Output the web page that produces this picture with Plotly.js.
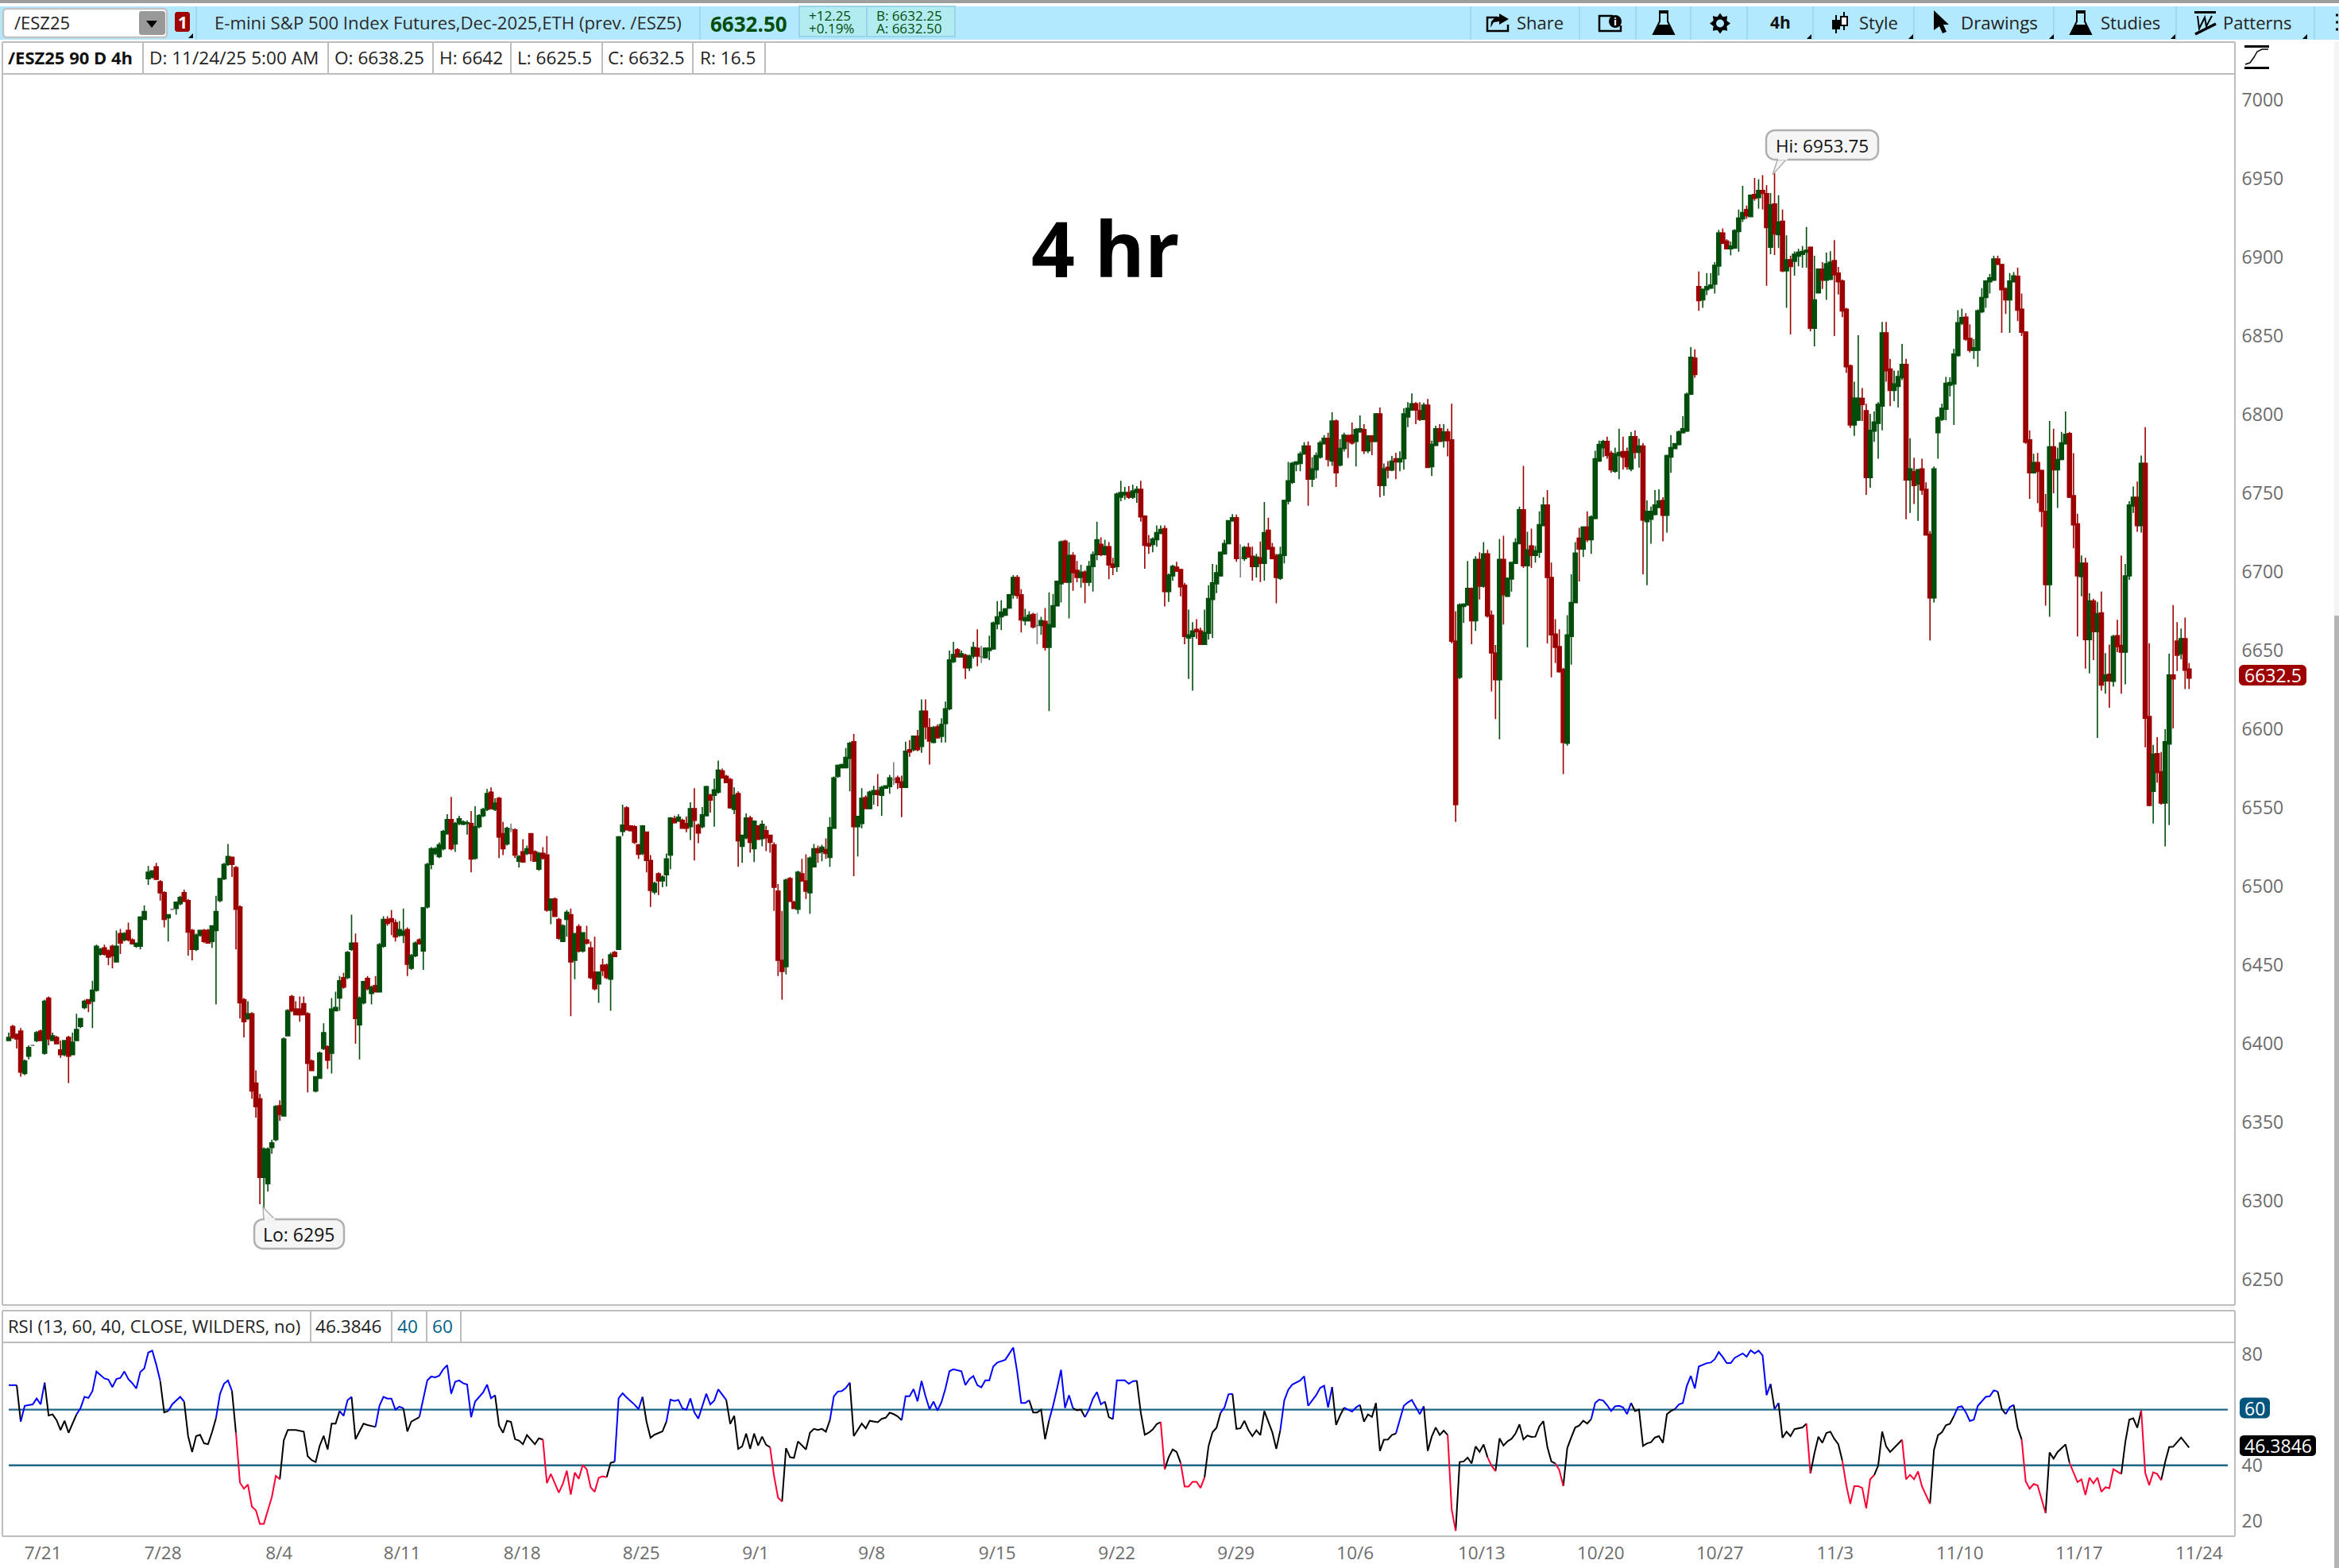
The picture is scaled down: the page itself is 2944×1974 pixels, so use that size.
<!DOCTYPE html>
<html><head><meta charset="utf-8"><title>/ESZ25 4h</title>
<script src="https://cdn.plot.ly/plotly-3.0.1.min.js"></script>
<style>html,body{margin:0;padding:0;background:#fff}#chart{width:2944px;height:1974px}</style></head>
<body><div id="chart"></div>
<script>
// Each row: open, high, low, close (bars are 4h)
const barsA=[[6402,6407,6402,6404],[6411,6412,6403,6404],[6406,6406,6397,6403],[6408,6410,6379,6382],[6381,6390,6380,6389],[6392,6399,6390,6397.5],[6399,6399.5,6398.5,6399],[6402,6408,6401,6407],[6408,6409,6402,6402],
[6394,6428,6393,6427],[6429,6430,6399,6403],[6402,6407,6402,6405],[6404,6405,6400,6400],[6396,6402,6391,6393],[6393,6402,6392,6402],[6404,6405,6375,6392],[6393,6407,6393,6401],[6402,6419,6402,6409],[6411,6416,6410,6416],[6423,6428,6422,6427],[6428,6428,6420,6425.5],[6427,6440,6410,6434],[6434,6463,6433,6462],[6457,6461,6456,6460],[6461,6463,6456,6457],[6459,6460,6450,6455],[6462,6463,6448,6456],[6452,6472,6452,6462],[6470,6473,6457,6464],[6466,6471,6465,6470],[6472,6477,6465,6466],[6466,6467,6463,6463.5],[6462,6464,6461,6464],[6462,6481,6460,6480.5],[6479,6488,6479,6484],[6505,6513,6501,6509],[6506,6510,6505,6510],[6512.5,6515,6504,6504.5],[6503,6504,6491,6496]];
const barsB=[[6496,6497,6474,6479],[6480,6482,6465,6482],[6485.5,6486,6485,6485.5],[6486,6490,6482,6490],[6489,6494,6488,6493],[6496,6498,6490,6490.5],[6491,6492,6456,6471],[6472,6473,6453,6460],[6460,6470,6459,6469],[6469,6472,6468,6472],[6472,6473,6464,6465],[6472,6473,6464,6464],[6465,6475,6461,6475],[6472,6494,6425,6484],[6491,6505,6490,6505],[6505,6515,6504,6514],[6514,6527,6513,6519],[6518.5,6519,6506,6514],[6512,6513,6460,6485.5],[6487,6488,6416,6426],[6428,6429,6404,6414],[6416,6427,6415,6419],[6419,6420,6365,6370],[6375,6383,6353,6360],[6365,6368,6298,6315],[6315,6334,6295,6333],[6311,6334,6306,6333],[6334,6339,6330,6337],[6339,6361,6338,6360]];
const barsC=[[6360.5,6364,6351,6355],[6354,6404,6354,6403],[6405,6422,6405,6421],[6430,6431,6420,6421],[6422,6427,6418,6418.5],[6422,6430,6414,6418.5],[6425.5,6430,6418,6418.5],[6419,6420,6369,6387.5],[6389,6390,6383,6383],[6370,6379,6369,6379],[6378,6395,6378,6394],[6397,6413,6396,6407],[6398,6399,6384,6389.5],[6394,6429,6381,6422],[6421,6433,6421,6423],[6429,6443,6421,6440],[6442,6445,6435,6436],[6442,6459,6441,6458],[6460,6482,6459,6464],[6464,6470,6400,6416],[6412,6430,6390,6429],[6426,6440,6425,6439.5],[6441.5,6443,6434,6435],[6432,6437,6425,6436],[6437,6443,6433,6433],[6433,6464,6433,6463],[6462,6481,6461,6479],[6479,6481,6475,6476.5],[6479.5,6485,6469,6477.5],[6477,6479,6465,6468],[6469,6478,6468,6472.5]];
const barsD=[[6469,6486,6464,6471.5],[6472.5,6474,6443,6450.5],[6448,6457,6447,6456],[6456,6465,6455,6464],[6466,6467,6463,6463.5],[6459,6487,6447,6486.5],[6487,6515,6486,6514],[6514,6525,6511,6524],[6521,6525,6520,6524],[6519,6528,6518,6526.5],[6524,6536,6523,6535],[6533.5,6546,6533,6542.5],[6542.5,6557,6523,6524],[6527,6541,6522,6540],[6540,6545,6539,6543],[6539.6,6542,6539,6541],[6540,6542,6533,6540.5],[6540,6548,6509,6517.5],[6518,6551,6517,6538],[6538,6546,6537,6545],[6545,6550,6544,6549],[6549,6562,6548,6559],[6560,6563,6549,6549.5],[6549,6556,6548,6553],[6556,6557,6518,6531.5],[6533.5,6541,6520,6524],[6527,6538,6526,6537],[6536.5,6540,6534.5,6536.5],[6536,6537,6518,6520],[6516,6520,6512,6519]];
const barsE=[[6522,6530,6515,6515.5],[6521,6526,6520,6524],[6533.5,6534,6516,6521],[6522,6523,6516,6516],[6511,6522,6510,6521],[6521,6525,6517,6518],[6520,6532,6484,6485],[6485,6492,6476,6492],[6492,6493,6481,6481],[6479,6480,6466,6467],[6465,6476,6465,6475],[6479,6485,6468,6483.5],[6482,6486,6417.5,6452],[6453,6470,6441,6470],[6474.5,6476,6458,6459],[6459,6471,6458,6470.5],[6466,6475,6463,6464],[6461,6465,6441,6442],[6445.5,6468,6434,6435],[6438,6446,6426,6445.5],[6450,6454,6443,6446.5],[6450,6451,6441,6442],[6441,6458,6421,6456.5],[6458,6459,6455,6455.5],[6460,6532,6460,6531.5],[6535,6552,6532,6539],[6550,6551,6536,6536],[6538.5,6539,6535,6535.5],[6538,6539,6527,6528],[6526.5,6527,6517.5,6520.5]];
const barsF=[[6521,6539,6520,6538.5],[6534.5,6535,6509,6516.5],[6516.5,6520,6487,6497.5],[6496.5,6503,6495,6502],[6508,6509,6494.5,6503.5],[6503.5,6507,6499.5,6506],[6507.5,6521,6500,6517.5],[6520,6544,6511,6543.5],[6543,6545,6540,6540.5],[6541.5,6546,6541,6544],[6542,6543,6537,6537],[6540,6544.5,6534.5,6537],[6538,6553.5,6529.5,6549.5],[6549.5,6562.5,6516.5,6542],[6539,6540,6527.5,6534],[6538,6550.5,6537,6545.5],[6545,6564,6545,6563.5],[6558,6559,6547,6555],[6558,6568.5,6538,6561.5],[6560,6580,6559,6574],[6573.5,6575,6569,6569],[6570,6571,6566,6566],[6568,6569,6549.5,6550],[6549,6563,6546,6558],[6559,6560.5,6512.5,6529],[6525.5,6533,6515,6532.5],[6531,6546.5,6530,6543.5],[6543.5,6545,6521.5,6528],[6524,6542,6515.5,6541.5]];
const barsG=[[6538.5,6539,6530,6530],[6530.5,6542,6525.5,6539.5],[6535.5,6538.5,6522.5,6531],[6532.5,6533,6521.5,6528],[6526.5,6528,6484.5,6499.5],[6497,6501.5,6443,6453],[6453,6484.5,6428,6446],[6449,6505,6444,6504],[6505,6506,6490,6490.5],[6490,6491,6486,6486],[6485.5,6510,6482.5,6509],[6508,6517.5,6503,6503.5],[6503.5,6520.5,6492,6497],[6496,6519,6482.5,6518],[6512.5,6527,6512,6524],[6524,6526,6515,6521.5],[6522,6526.5,6516,6525],[6523.5,6530.5,6517.5,6521],[6518.5,6544,6512.5,6537.5],[6537,6570,6537,6569],[6570,6577.5,6569,6577],[6575.5,6578,6575,6577.5],[6575.5,6588,6575,6582],[6581.5,6592,6560.5,6591],[6592,6597,6506.5,6538],[6538,6545,6519,6544.5],[6540,6562.5,6537,6556],[6556.5,6558,6549.5,6549.5],[6549.5,6561,6549,6560],[6558.5,6564,6552,6561]];
const barsH=[[6561,6571.5,6551,6558.5],[6558,6564,6545,6563],[6562.5,6564,6562,6564],[6563.5,6571,6559,6569],[6568,6579,6564.5,6568],[6569,6570.5,6562,6566],[6566.5,6570.5,6544,6563],[6563,6592,6562.5,6586],[6587,6593,6582.5,6585.5],[6587,6596,6586,6595.5],[6595.5,6599.5,6586,6587],[6589,6619,6585,6611.5],[6611.5,6619,6593.5,6601.5],[6601,6607,6577.5,6592.5],[6591.5,6602,6591,6601],[6601.5,6603,6594.5,6594.5],[6595.5,6607,6591.5,6603],[6603.5,6617.5,6591.5,6613],[6613,6650,6612,6644],[6643,6655.5,6642,6647.5],[6650.5,6651.5,6646,6646],[6646,6650,6645.5,6648],[6647,6648,6632,6639],[6639,6647.5,6637,6646.5],[6646.5,6655.5,6645,6652],[6651.5,6663.5,6640,6646.5],[6646,6653,6642,6646],[6645.5,6652,6645,6651.5],[6650,6659.5,6644,6651.5],[6651,6668.5,6650.5,6667.5],[6667,6681.5,6663.5,6671.5]];
const barsI=[[6671.5,6682,6663,6674.5],[6672.5,6677,6672,6676.5],[6677,6686,6676.5,6685.5],[6685.5,6698,6683,6696.5],[6696.5,6698,6683,6685],[6685.5,6689,6661.5,6669.5],[6669,6676.5,6666,6671],[6669,6675,6668.5,6672.5],[6673,6674,6664,6665],[6666,6674,6654,6666],[6666,6671.5,6660,6669],[6668.5,6677,6650,6652],[6652,6687,6611.5,6666.5],[6665,6686,6664.5,6678.5],[6678.5,6694.5,6678,6694],[6692.5,6720,6680.5,6719],[6719.5,6720.5,6693,6693.5],[6693.5,6719,6670.5,6710.5],[6710.5,6712.5,6688,6699.5],[6701,6707,6693.5,6696.5],[6696.5,6704.5,6690,6699.8],[6699.8,6701,6680,6693.5],[6693.5,6707,6691,6703.5],[6703.5,6713,6687.5,6711],[6711,6732,6707.5,6720.5],[6717.5,6722,6710,6711],[6711,6720.5,6710.5,6716],[6716,6719,6695.5,6704.5],[6705,6709,6698,6703]];
const barsJ=[[6703.5,6750.5,6700,6749.5],[6747.5,6758,6745,6750.5],[6749,6754,6746,6750.5],[6750.5,6754.5,6746.5,6747.5],[6747.5,6755.5,6746.5,6751.5],[6750.5,6754.5,6744,6752.5],[6752.5,6758,6732,6735],[6735.5,6736,6702,6717],[6718,6723.5,6711.5,6716.5],[6717.5,6722,6712.5,6721],[6720.5,6729.5,6716,6725],[6724.5,6729.5,6724,6727],[6727.5,6729.5,6678,6687.5],[6687.5,6699,6681,6698],[6697.5,6704.5,6694.5,6703.5],[6703,6706.5,6700,6700.5],[6701.5,6702,6684.5,6690.5],[6691.5,6693,6654,6659],[6658,6676,6632,6660],[6659,6668,6624.5,6662.5],[6663.5,6670,6657.5,6662],[6662.5,6664.5,6653.5,6654],[6654,6676,6653.5,6661.5],[6661,6691.5,6657,6683],[6682.5,6705,6658,6693],[6692.5,6704.5,6686.5,6699.5],[6697.5,6713,6697,6712.5],[6711.5,6720.5,6711,6718],[6718,6733,6717.5,6732.5],[6732.5,6736.7,6732,6734.5]];
const barsK=[[6734.5,6736.5,6706.5,6708.5],[6709,6717.5,6696.5,6709],[6708.5,6716.5,6707,6715.5],[6715.5,6718.5,6709.5,6709.5],[6710,6716,6694.5,6703.5],[6703.5,6711.5,6696.5,6709.5],[6709,6719.3,6693.6,6705.5],[6705.5,6744.5,6694.5,6725],[6726.5,6734.5,6714,6714.5],[6715.5,6718.5,6708,6708.5],[6710.5,6711.5,6680,6696.5],[6696,6716,6695,6711],[6710.5,6746,6705.5,6745.5],[6745,6770,6743,6758],[6757,6770,6756,6769],[6768.5,6770.5,6764,6770],[6769,6776.5,6764,6775],[6775,6782.5,6774.5,6780],[6780,6783,6742,6759],[6759,6773,6754,6765.5],[6765,6776,6759.5,6774],[6773,6783.5,6772,6782],[6781.5,6787,6781,6785],[6785,6788.5,6767,6771.5],[6770.5,6801.5,6767.5,6796],[6796,6797,6754,6763],[6768,6784.5,6767,6778.5],[6778.5,6788.5,6776.5,6787],[6786.5,6787.5,6772.5,6783],[6787,6795,6781,6782]];
const barsL=[[6783,6791.5,6767,6790.5],[6789,6799.5,6788.5,6791],[6790.5,6794,6775,6777],[6777,6787,6775.5,6786.5],[6786.5,6787,6774.2,6783],[6783,6801,6782.5,6800.5],[6800.5,6804.5,6747.5,6755],[6755,6769,6748.5,6765.5],[6766.5,6770.5,6759.5,6764.8],[6764.8,6773.8,6764,6770.5],[6772,6775.8,6759,6770],[6770,6776.7,6764,6772],[6772,6804,6765,6800.5],[6798.5,6808,6792,6804],[6803,6813.5,6802.5,6807],[6807,6808,6794,6803],[6802.5,6808,6796,6797],[6797,6807.6,6796.5,6806],[6806,6810,6766,6766.5],[6767,6783.5,6761,6781],[6780.5,6793,6780,6791],[6791,6794,6783,6783],[6783.5,6794,6779,6789],[6789,6791,6773.5,6783.5],[6784,6807,6654.5,6656],[6656,6675,6541,6552],[6633,6680,6632,6679],[6678,6680,6667.5,6679.5],[6679,6707,6678.5,6689.5],[6689.5,6690,6654,6669],[6669,6710,6662.5,6708],[6708,6712.5,6682.5,6691]];
const barsM=[[6691,6719,6690,6711.5],[6711.5,6714,6671,6672],[6672.5,6675.5,6624,6648.5],[6648.5,6653.5,6606.5,6631.5],[6631.5,6721,6593.5,6708],[6708,6723,6666.5,6685.5],[6684.5,6696.5,6684,6696],[6695.5,6706.5,6687.5,6706],[6705.5,6721.5,6705,6718.5],[6718,6741.5,6717.5,6739.5],[6739.5,6767.5,6702.5,6704],[6704,6725.5,6652,6714],[6716.5,6727.5,6702.5,6710.5],[6710.5,6716.5,6706,6713.5],[6712.5,6738.5,6709,6730],[6729.5,6747.5,6729,6742.5],[6742.5,6752,6654.5,6696.5],[6696.5,6706,6633,6660],[6660.5,6670,6642,6652],[6652.5,6663.5,6636,6636.5],[6638,6639,6571.5,6591.5],[6591,6672.5,6589.5,6660],[6659,6698.5,6641,6680.5],[6680.5,6719,6680,6712],[6721.5,6728,6694,6714.5],[6714.5,6729,6709.5,6728.5],[6728.5,6738.5,6719,6720.5],[6720.5,6736,6711.5,6735],[6734,6777,6733.5,6772]];
const barsN=[[6770.5,6783.5,6770,6781],[6779,6784,6773,6783],[6783,6786,6772,6774],[6775.5,6777,6763,6765],[6764,6779,6763,6775],[6774,6791,6759,6776],[6776.5,6786,6765,6773],[6776.5,6779,6765,6767],[6765.5,6789,6764,6786],[6786,6790,6772,6776],[6776,6784.7,6766.3,6780],[6780,6782,6698.5,6733],[6732,6745.5,6691.5,6738.5],[6733.5,6741.5,6718,6738.5],[6736.5,6752,6736,6742.5],[6741,6752.6,6740.5,6745],[6745.5,6747.5,6719.5,6736],[6736,6774.5,6725,6774],[6773,6787,6763,6779],[6778.5,6782,6778,6781.5],[6781,6790,6780.5,6789],[6788.5,6799,6788,6791],[6789.5,6814,6789,6813],[6813,6843,6812.5,6836.5],[6836,6841.5,6823.5,6825.5],[6881.5,6891,6866,6872.5],[6873,6880.5,6868,6879.5],[6879.5,6890,6876,6881.5],[6880.5,6890,6880,6882.5],[6883,6897,6877,6895]];
const barsO=[[6894.5,6917.5,6888.5,6915.5],[6915.5,6918.5,6908.5,6909],[6910.3,6911.5,6905.4,6905.5],[6905.5,6910,6901.3,6907.2],[6906,6918,6905.5,6917],[6916.5,6930.5,6903.5,6925],[6924.5,6945.5,6922.5,6928.5],[6930.4,6933,6924.5,6926.5],[6926,6940,6925.5,6939.5],[6940,6950.5,6936,6937.6],[6938,6949.7,6931,6942.5],[6942.5,6952.3,6930.4,6940.7],[6940.5,6946,6882,6919],[6906.5,6941,6902,6933.5],[6934,6953.75,6901.5,6915],[6914.5,6939.5,6906,6922.5],[6923,6930.5,6890.5,6891.5],[6891.5,6914,6868,6898.5],[6898.5,6901,6851,6894.3],[6897.5,6903.8,6888.4,6902],[6900.8,6905.4,6894.3,6903.3],[6902,6907.2,6893.5,6903.8],[6903.3,6919.3,6893.5,6904.6],[6906.5,6907,6853,6855],[6855,6901,6843.5,6873],[6877.5,6893,6877,6892.5],[6892.5,6897,6880,6885.5],[6885.5,6903,6873,6896],[6886,6904,6885.5,6897]];
const barsP=[[6898,6911,6850,6889],[6890,6894,6876.4,6884.5],[6885,6886,6862,6866],[6867,6868,6826.5,6830.5],[6831,6832,6791.5,6793.5],[6793.5,6821,6786.5,6810.5],[6796.5,6850.5,6796,6810.5],[6810.3,6817,6796,6806.5],[6802.5,6807,6749,6760],[6760,6800.5,6753.5,6790],[6789.5,6802,6782.7,6795.3],[6794.5,6808,6772,6806.5],[6805.5,6859,6790,6852],[6852,6859,6821,6828],[6829,6835.5,6805.5,6815.5],[6815.5,6828,6808.6,6819.6],[6818,6828,6804.6,6824.2],[6823.5,6845,6822,6832],[6832,6835.5,6733.5,6758.5],[6758.5,6785,6737.5,6765.5],[6763.8,6772.6,6743.2,6755],[6755.8,6765.5,6732.4,6765],[6765.5,6772,6749,6752],[6752.5,6757,6723,6723.5],[6724,6726,6656.5,6683.5],[6683.5,6767,6680.5,6765.5],[6788.5,6799,6772,6798],[6797,6807,6796,6804],[6803.5,6824,6796.5,6820],[6818.7,6823.7,6811.6,6820.4],[6819.5,6842,6793.5,6838.5],[6837.5,6866.5,6837,6858.5]];
const barsQ=[[6858.1,6867.4,6857,6861.8],[6862,6864.5,6847,6848],[6848.5,6857.5,6839.5,6841],[6841,6848,6835.5,6842.5],[6841,6867,6830.5,6866],[6865.5,6880.5,6864.5,6874.5],[6874.5,6885.5,6868,6885],[6884.5,6889.5,6877,6887],[6885.5,6901,6885,6899],[6899,6901,6895,6895.8],[6895.5,6896,6852,6879.5],[6880,6881,6864,6873],[6873,6890,6852,6885],[6884.5,6890.7,6884,6888.2],[6888,6893.5,6859.5,6866.5],[6867,6877,6850,6852.5],[6852.5,6853,6781.5,6782.5],[6784,6790,6746.5,6763],[6763,6775.2,6762.5,6769.6],[6769.5,6775.6,6743.7,6763.9],[6764.5,6765,6728.5,6738.5],[6738.5,6749.5,6678.5,6692],[6692,6796,6671.5,6779.5],[6779.5,6791,6750,6765],[6765,6779,6740.7,6771.4],[6771.5,6789,6771,6782],[6781.5,6802,6781,6787.5],[6788,6789,6747,6747.5],[6748.5,6775.5,6715,6730],[6730.5,6737,6659,6697.5]];
const barsR=[[6697,6710.5,6684.5,6705.5],[6705.5,6709,6638.5,6657],[6657,6686.5,6635.5,6681.5],[6681.5,6683,6644,6662],[6662,6681,6594.5,6673.5],[6674,6687.5,6624.5,6628],[6630.7,6648.3,6622.6,6634.5],[6635,6653.8,6613.6,6630.7],[6630.5,6660,6627,6659],[6659.5,6669.6,6649,6652.5],[6653.3,6710.3,6622.6,6649],[6649,6705,6628.5,6697.5],[6697.5,6745,6695,6742.5],[6742,6754.3,6737.5,6747.5],[6747.5,6757.5,6725.5,6729.5],[6729.5,6774,6725,6769],[6769,6792,6588.5,6607],[6608,6654.5,6551,6551.5],[6560.5,6590,6540,6584],[6584.5,6595,6566,6572.5],[6573,6585.5,6552,6553],[6553,6600,6525.5,6592],[6590.5,6648,6539,6634.5],[6634.5,6678.9,6600.5,6632],[6656,6668,6637,6647],[6648,6664,6644.5,6657.5],[6657.5,6671,6625.5,6637.5],[6638.25,6642,6625.5,6632.5]];
const allBars=[].concat(barsA,barsB,barsC,barsD,barsE,barsF,barsG,barsH,barsI,barsJ,barsK,barsL,barsM,barsN,barsO,barsP,barsQ,barsR);

const rsiBars=[0,2,3,4,6,7,8,9,10,11,12,13,14,15,16,17,18,19,20,21,22,24,25,26,27,28,29,30,31,32,33,34,35,36,37,38,39,40,41,43,44,45,46,47,48,49,50,51,52,53,54,55,56,57,58,59,60,61,62,63,64,65,66,67,68,69,70,72,74,75,76,77,78,79,80,81,82,83,84,85,86,87,89,90,92,93,94,95,96,97,98,99,100,101,103,104,105,106,107,108,109,110,111,112,113,114,115,116,117,119,120,121,122,123,124,125,126,127,128,129,130,132,133,134,135,136,138,139,140,141,142,143,144,145,146,147,148,149,150,151,152,153,154,155,157,158,159,160,161,162,164,165,166,167,168,169,170,171,172,173,175,176,177,178,180,181,182,183,184,185,186,187,188,189,190,191,192,193,194,195,196,197,
198,200,201,202,203,204,205,206,207,208,209,210,211,212,214,215,216,218,219,220,221,222,223,224,225,226,227,228,229,230,231,232,233,234,235,236,237,239,240,241,242,243,244,245,246,247,248,250,251,252,253,254,255,256,257,258,259,260,261,262,263,264,265,266,267,268,269,270,271,272,273,274,275,276,277,278,280,281,282,283,284,285,286,287,288,289,290,291,292,293,294,295,296,297,298,299,300,301,302,303,304,305,306,307,308,309,310,311,312,313,314,315,317,318,319,320,321,322,324,325,326,328,329,330,331,332,333,334,335,336,337,338,339,340,341,342,343,344,345,346,347,348,350,351,352,354,355,356,357,358,359,360,361,362,363,364,365,366,367,368,369,370,371,372,373,374,375,376,377,378,379,380,381,382,383,384,385,386,387,388,389,390,391,392,393,394,395,396,
397,398,399,400,401,402,403,404,405,406,407,408,409,410,411,412,413,414,415,416,417,418,419,420,421,422,423,424,425,426,427,428,429,430,431,432,433,434,435,436,437,438,439,440,441,442,443,444,445,446,447,448,449,450,451,452,453,454,455,456,457,458,459,460,461,462,463,464,465,466,467,468,469,470,471,472,473,475,476,477,478,479,480,482,483,484,485,486,487,488,489,490,491,492,493,494,495,496,497,498,499,500,501,502,503,504,505,506,507,508,509,510,511,512,513,514,516,517,518,519,520,521,522,523,524,525,526,527,528,529,530,531,532,533,534,535,536,537,538,539,540,541,542,543,545,546,547];
const rsiValues=[68.8,68.8,55.7,61.4,61.9,64,61.9,69.7,57.9,58.3,56.2,52.7,56,51.7,54.8,58.3,60.5,64.6,64.2,66.7,73.7,71.2,70.8,68.1,71,71.4,73.7,71,69.5,67.6,73.5,74.8,80.5,81.2,76.2,70.3,59,59.5,61.9,64.6,62.9,50.5,44.8,50.5,51,47.9,47.6,51.9,57,65.7,69.3,70.5,66.7,51.7,33.8,31.6,33.1,25.2,23.8,19,19,23.8,28.6,36.2,35,49,52.7,52.7,52.1,43.3,41.9,41.2,47,50.6,45.7,55,55,59.5,57.8,63.4,64.6,49.4,55,54.5,53.8,61.4,64.6,64,64,60,61.1,60.5,52.2,55.7,57.3,64.3,70.5,71.9,71.6,72.2,74.5,76,65.7,70,70.5,69.5,69,57.3,62.9,66.2,69,64.1,65.2,54.3,51.7,56,55.6,49.4,48.9,47.6,50.9,47.6,49.7,49.3,33.6,36.9,30.2,33.3,38.1,29.5,37.4,35.2,40.1,38.6,32.1,30.5,35.5,36.1,35.7,40.9,41.3,64.1,65.9,64.4,61.8,60.2,64.6,55.7,49.9,51,52.2,55.7,63.6,63.1,63.5,60.5,60,64,59,56.8,65.7,61.9,63.3,67.3,63.5,54.9,57.8,45.9,46.8,51.4,45.9,51.4,47.1,50.3,47.4,46.5,36.2,28.4,27,46.2,42.9,42.7,
48.6,45.7,51.7,53.1,52.7,53.1,52.1,56.2,64.8,66.5,66.7,67.8,69.7,50.5,55,53.3,56,55.5,56.7,57.1,58.9,58.4,57.6,56.2,64.8,64.8,67.4,63,70.3,64.8,60.2,62.9,59.7,62.7,67.6,73.8,74.5,73.8,68.8,71,72.1,68.8,68,70.5,70.5,75.5,76.9,77.9,80,82.3,73.5,62.4,62.4,63.4,59,59,60,49.4,56.2,61.4,67.6,74.3,60.6,65.2,60.5,59.8,60,57.3,60,64,66.3,61.9,62.9,57.3,56.6,70.5,70.5,69.3,70.2,70.4,59,51,51.7,52.9,54.8,55.5,38.6,42.9,45.7,44.8,40.9,32.4,32.4,34.1,34.1,31.9,35.7,46.9,51.9,53.5,58.8,60.8,65.5,65.7,53.1,53.3,56,52.7,50.5,52.6,50.9,59.5,51.9,45.9,52.6,63.3,67.1,69,70.5,72,61.4,65.2,67.8,68.6,60.8,68.1,54.5,57.9,60.7,60,59.3,60.8,61.7,55.7,58.3,57.4,62.4,45.2,49.2,49.3,50.9,51.4,61.4,62.6,63.5,58.4,61.2,45.2,50.3,53.6,50.9,52.5,50.9,24.2,16.5,41.2,41.4,42.8,40.7,46.8,44.8,47.5,42.9,39.9,37.9,49.7,47.1,48.6,49.5,51.4,54.7,49.3,50.7,50.2,50.3,54,55.9,46.6,41.4,40.7,38.3,32.6,46.2,50,53.6,54.3,56,55,
56.6,62.4,63.6,63.3,61.6,59.5,61.2,61.4,60.8,58.4,62.4,59.5,60,47,47.9,48.3,50,50.5,48.1,58.4,59.5,60.2,61.9,62.4,68.6,72.1,67.6,75.5,76.2,76.7,76.9,78.1,80.7,78.9,76.7,76.7,78.6,79.3,80.2,79,81.3,80.2,81.2,79.5,65.2,69.2,60.2,62.4,49.9,52.1,50.5,53,53.3,53.6,55,37.1,44.3,50.3,48.1,51.6,52.1,49.5,47.6,41.7,32.9,26.2,32.5,32.5,31.9,24.6,35,36.5,39.9,52.1,46.8,44.8,46.2,49.2,35,36.6,35,37.8,32.4,26.2,45.5,50.8,51.9,54.4,54.9,57.7,60.9,61.2,59,55.9,56.4,61.4,62.9,64.6,64.8,66.9,66.5,60.3,58.4,60.9,61.7,53.5,49.3,34.3,31.6,33.3,32.8,28,22.9,44.6,42.4,44.8,47.5,40.9,37.3,34,35,29.4,35.6,33.5,35.6,30.5,32.1,31.8,38.6,37.8,36.9,48.3,56.4,56.9,53.5,59.7,37.3,32.9,37.5,36.9,34.7,41.2,46.6,46.7,50,48.3,46.3846];
// bar at which the RSI line changes colour, and the colour from there on
const zoneBars=[0,2,3,9,17,38,40,44,52,56,57,68,83,86,92,99,103,122,134,150,152,159,165,180,191,194,206,211,224,256,261,267,270,275,277,283,289,290,294,300,304,307,319,332,335,339,348,355,361,363,371,373,388,390,397,407,418,442,443,444,451,452,460,468,475,482,488,499,501,503,505,511,517,530,535,540];
const zoneKinds=["b","k","b","k","b","k","b","k","b","k","r","k","b","k","b","k","b","k","r","k","b","k","b","k","r","k","b","k","b","k","b","k","b","k","b","k","r","k","r","k","b","k","b","k","b","k","b","k","r","k","r","k","r","k","b","k","b","k","b","k","r","k","r","k","r","k","b","k","b","k","r","k","r","k","r","k"];

const priceTicks=[6250,6300,6350,6400,6450,6500,6550,6600,6650,6700,6750,6800,6850,6900,6950,7000];
const rsiTicks=[20,40,80];
const rsiLevels=[60,40];
const dateBars=[8.6,38.7,67.8,98.7,128.8,158.7,187.4,216.5,248,278,307.9,337.8,369.5,399.4,429.3,458.2,489.5,519.4,549.5];
const dateLabels=["7/21","7/28","8/4","8/11","8/18","8/25","9/1","9/8","9/15","9/22","9/29","10/6","10/13","10/20","10/27","11/3","11/10","11/17","11/24"];

const W=2944,H=1974;
const px=x=>x/W, py=y=>1-y/H;
const FONT='"Open Sans", sans-serif';
const GREEN='#004d0c',RED='#9c0000',BORDER='#bdbdbd',TXT='#222222',AXIS='#6c6c6c',BAR='#b3e9ff';

// split candles: normal ones and dojis (open == close, drawn grey)
const idx=allBars.map((_,i)=>i);
const main=idx.filter(i=>allBars[i][0]!==allBars[i][3]);
const flat=idx.filter(i=>allBars[i][0]===allBars[i][3]);
const col=(list,k)=>list.map(i=>allBars[i][k]);
function candle(list,up,down){return {type:'candlestick',x:list,open:col(list,0),high:col(list,1),low:col(list,2),close:col(list,3),xaxis:'x',yaxis:'y',
  increasing:{line:{color:up,width:1.6},fillcolor:up},decreasing:{line:{color:down,width:1.6},fillcolor:down},whiskerwidth:0,hoverinfo:'skip',showlegend:false};}

function rsiKind(bar){let k='k';for(let z=0;z<zoneBars.length;z++){if(zoneBars[z]<=bar)k=zoneKinds[z];else break;}return k;}
function rsiTrace(kind,color){const xs=[],ys=[];
  for(let n=0;n<rsiBars.length-1;n++){if(rsiKind(rsiBars[n])===kind){
    if(xs.length&&xs[xs.length-1]===rsiBars[n]){xs.push(rsiBars[n+1]);ys.push(rsiValues[n+1]);}
    else{if(xs.length){xs.push(null);ys.push(null);}xs.push(rsiBars[n],rsiBars[n+1]);ys.push(rsiValues[n],rsiValues[n+1]);}}}
  return {type:'scatter',mode:'lines',x:xs,y:ys,xaxis:'x',yaxis:'y2',line:{color:color,width:2},connectgaps:false,hoverinfo:'skip',showlegend:false};}
const levelTraces=rsiLevels.map(v=>({type:'scatter',mode:'lines',x:[0,556.7],y:[v,v],xaxis:'x',yaxis:'y2',line:{color:'#1f6788',width:2.4},hoverinfo:'skip',showlegend:false}));

const traces=[candle(main,GREEN,RED),candle(flat,'#808080','#808080'),...levelTraces,rsiTrace('k','#000000'),rsiTrace('b','#0000ff'),rsiTrace('r','#ff0033')];

// ---- page furniture ----
const shapes=[],ann=[];
function rect(x0,y0,x1,y1,fill,line){shapes.push({type:'rect',xref:'paper',yref:'paper',x0:px(x0),x1:px(x1),y0:py(y0),y1:py(y1),fillcolor:fill||'rgba(0,0,0,0)',line:{width:line?2:0,color:line||'rgba(0,0,0,0)'},layer:'above'});}
function hl(x0,x1,y,c,w){shapes.push({type:'line',xref:'paper',yref:'paper',x0:px(x0),x1:px(x1),y0:py(y),y1:py(y),line:{color:c||BORDER,width:w||2},layer:'above'});}
function vl(x,y0,y1,c,w){shapes.push({type:'line',xref:'paper',yref:'paper',x0:px(x),x1:px(x),y0:py(y0),y1:py(y1),line:{color:c||BORDER,width:w||2},layer:'above'});}
function pathOf(pts,close){return pts.map((p,i)=>(i?'L':'M')+px(p[0]).toFixed(6)+','+py(p[1]).toFixed(6)).join(' ')+(close?' Z':'');}
function poly(pts,fill,line,w,close){shapes.push({type:'path',xref:'paper',yref:'paper',path:pathOf(pts,close!==false),fillcolor:fill||'rgba(0,0,0,0)',line:{color:line||'rgba(0,0,0,0)',width:line?(w||2):0},layer:'above'});}
function rr(x0,y0,x1,y1,r,fill,line,w){const pts=[];const arc=(cx,cy,a0)=>{for(let k=0;k<=6;k++){const a=a0+k*Math.PI/12;pts.push([cx+r*Math.cos(a),cy+r*Math.sin(a)]);}};
  arc(x1-r,y0+r,-Math.PI/2);arc(x1-r,y1-r,0);arc(x0+r,y1-r,Math.PI/2);arc(x0+r,y0+r,Math.PI);poly(pts,fill,line,w);}
function text(s,x,y,size,color,opt){opt=opt||{};ann.push({text:s,xref:'paper',yref:'paper',x:px(x),y:py(y),xanchor:opt.anchor||'left',yanchor:'middle',showarrow:false,borderpad:0,borderwidth:0,font:{family:FONT,size:size,color:color||TXT,weight:opt.bold?700:400}});}
function tri(x,y){poly([[x,y+5],[x+6,y+5],[x+6,y-1]],'#000');}

// top toolbar
rect(0,0,W,4,'#9e9e9e');rect(0,8,W,50,BAR);rect(0,50,W,53,'#ffffff');
rr(4,11,210,47,4,'#ffffff','#c4c4c4',2.5);
rr(175,14,208,44,3,'#999999');poly([[184,26],[198,26],[191,35]],'#000');
text('/ESZ25',18,28.5,22,'#222');
rr(220,15,239,40,3,'#a00000');text('1',229.5,28,21,'#ffffff',{anchor:'center',bold:true});tri(237,43);
vl(247,8,50,'#98d5ec',1.5);
text('E-mini S&amp;P 500 Index Futures,Dec-2025,ETH (prev. /ESZ5)',270,28.5,22.2,'#2b2b2b');
vl(881,8,50,'#98d5ec',1.5);
text('6632.50',894,30,26,GREEN,{bold:true});
rect(1006,8,1091,46,'#b3ecf0','#98d5ec');rect(1091,8,1202,46,'#b3ecf0','#98d5ec');
text('+12.25',1018,19,17,GREEN);text('+0.19%',1018,36,17,GREEN);
text('B: 6632.25',1103,19,17,GREEN);text('A: 6632.50',1103,36,17,GREEN);
[1851,1988,2059,2128,2199,2282,2409,2585,2739,2913].forEach(x=>vl(x,8,50,'#98d5ec',1.5));
text('Share',1909,28,22,'#222');text('4h',2241,28,21,'#111',{anchor:'center',bold:true});
text('Style',2340,28,22,'#222');text('Drawings',2468,28,22.3,'#222');text('Studies',2644,28,22,'#222');text('Patterns',2798,28,22,'#222');
[2274,2402,2579,2732,2898].forEach(x=>tri(x,44));
// share icon
poly([[1885,22],[1872,22],[1872,39],[1898,39],[1898,31]],null,'#000',2.5,false);
poly([[1887,17],[1899,24],[1887,31],[1887,27],[1880,28],[1876,35],[1877,27],[1882,22],[1887,21]],'#000');
// fact-sheet icon
poly([[2030,20],[2013,20],[2013,39],[2040,39],[2040,32]],null,'#000',2.5,false);
shapes.push({type:'circle',xref:'paper',yref:'paper',x0:px(2025),x1:px(2041),y0:py(19),y1:py(35),fillcolor:'#000',line:{width:0},layer:'above'});
text('i',2033,27,13,'#fff',{anchor:'center',bold:true});
// flask icons
[[2094,13],[2619,13]].forEach(f=>{const x=f[0],y=f[1];
  poly([[x-5,y+3],[x-5,y+14],[x-13,y+30],[x+13,y+30],[x+5,y+14],[x+5,y+3]],null,'#000',2,true);
  poly([[x-7,y+18],[x+7,y+18],[x+13,y+30],[x-13,y+30]],'#000');rect(x-6,y,x+6,y+3,'#000');});
// gear
(function(){const c=[2165,29.5],pts=[];for(let k=0;k<16;k++){const a=k*Math.PI/8-Math.PI/2,r=k%2?9:13;pts.push([c[0]+r*Math.cos(a),c[1]+r*Math.sin(a)]);}poly(pts,'#000');
  shapes.push({type:'circle',xref:'paper',yref:'paper',x0:px(2160),x1:px(2170),y0:py(24.5),y1:py(34.5),fillcolor:BAR,line:{width:0},layer:'above'});})();
// candles icon
vl(2311,19,42,'#000',2);rect(2306,25,2316,37,'#000');vl(2321,15,38,'#000',2);rect(2317,21,2325,32,'#fff','#000');
// cursor
poly([[2434,13],[2453,31],[2446,31],[2450,40],[2445,42],[2441,33],[2434,38]],'#000');
// patterns icon
rect(2762,14,2789,17,'#000');poly([[2766,20],[2768,36],[2775,22],[2777,33],[2784,20]],null,'#000',2,false);poly([[2763,43],[2789,30]],null,'#000',3.5,false);
[19,28,37].forEach(y=>rect(2940,y-1.5,2943,y+1.5,'#000'));

// status row
hl(3,2813,53);hl(3,2813,93);vl(3,53,93);vl(2813,53,93);
[180,413,545,643,758,872,963].forEach(x=>vl(x,53,93));
text('/ESZ25 90 D 4h',10,72,22,'#111',{bold:true});
text('D: 11/24/25 5:00 AM',188,72,22.6,TXT);text('O: 6638.25',421,72,22.6,TXT);text('H: 6642',553,72,22.6,TXT);text('L: 6625.5',651,72,22.6,TXT);text('C: 6632.5',765,72,22.6,TXT);text('R: 16.5',881,72,22.6,TXT);
// curve icon
rect(2825,57,2856,60,'#000');rect(2825,84,2856,87,'#000');
poly([[2826,81],[2832,79],[2837,72],[2841,65],[2847,62],[2855,62]],null,'#000',1.5,false);
// plot frames
hl(3,2813,1643);vl(3,93,1643);vl(2813,93,1643);
hl(3,2813,1646,'#efefef',1.5);
hl(3,2813,1650);hl(3,2813,1690);vl(3,1650,1690);vl(2813,1650,1690);
vl(3,1690,1934);vl(2813,1690,1934);hl(3,2813,1934);
[391,493,537,580].forEach(x=>vl(x,1650,1690));
text('RSI (13, 60, 40, CLOSE, WILDERS, no)',10,1669,22,TXT);text('46.3846',397,1669,22.6,TXT);text('40',500,1669,22.6,'#00608a');text('60',544,1669,22.6,'#00608a');
// right edge
rect(2938,53,2944,775,'#f4f4f4');rect(2938,775,2944,H,'#b5b5b5');
// value tags
rr(2818,837,2903,863,6,'#9c0000');text('6632.5',2860.5,850,23,'#fff',{anchor:'center'});
rr(2819,1759.5,2857,1785.5,6,'#00557f');text('60',2838,1772.5,23,'#fff',{anchor:'center'});
rr(2819,1807,2915,1833,5,'#000');text('46.3846',2867,1820,23,'#fff',{anchor:'center'});
// Hi / Lo callouts
poly([[2231,220],[2238,199],[2250,199]],'#f5f5f5','#b0b0b0',1.5);
rr(2223,164,2364,201,11,'#f5f5f5','#b0b0b0',2.5);
poly([[2238,200],[2250,200]],null,'#f5f5f5',3,false);
text('Hi: 6953.75',2293,183,22.5,'#111',{anchor:'center'});
poly([[331,1520],[332,1536],[347,1536]],'#f5f5f5','#b0b0b0',1.5);
rr(320,1535,433,1572,11,'#f5f5f5','#b0b0b0',2.5);
poly([[333,1535],[346,1535]],null,'#f5f5f5',3,false);
text('Lo: 6295',376,1554,23,'#111',{anchor:'center'});
// chart caption
text('4 hr',1391,311,96,'#000',{anchor:'center',bold:true});

const tickOff='rgba(0,0,0,0)';
const layout={width:W,height:H,margin:{l:0,r:0,t:0,b:0},paper_bgcolor:'#ffffff',plot_bgcolor:'#ffffff',showlegend:false,hovermode:false,dragmode:false,
 boxgap:0,boxgroupgap:0,boxmode:'overlay',font:{family:FONT},
 xaxis:{domain:[px(3),px(2813)],range:[-1.6,558.5],anchor:'y2',tickmode:'array',tickvals:dateBars,ticktext:dateLabels,showgrid:false,zeroline:false,showline:false,ticks:'outside',ticklen:1,tickcolor:tickOff,tickfont:{family:FONT,size:22.5,color:AXIS},rangeslider:{visible:false},fixedrange:true},
 yaxis:{domain:[py(1643),py(94)],range:[6233.8,7016.2],side:'right',anchor:'x',tickmode:'array',tickvals:priceTicks,ticktext:priceTicks.map(String),showgrid:false,zeroline:false,showline:false,ticks:'outside',ticklen:3,tickcolor:tickOff,tickfont:{family:FONT,size:23,color:AXIS},fixedrange:true},
 yaxis2:{domain:[py(1934),py(1690)],range:[14.55,84.15],side:'right',anchor:'x',tickmode:'array',tickvals:rsiTicks,ticktext:rsiTicks.map(String),showgrid:false,zeroline:false,showline:false,ticks:'outside',ticklen:3,tickcolor:tickOff,tickfont:{family:FONT,size:23,color:AXIS},fixedrange:true},
 shapes:shapes,annotations:ann};
Plotly.newPlot('chart',traces,layout,{displayModeBar:false,staticPlot:true,responsive:false});
</script></body></html>
